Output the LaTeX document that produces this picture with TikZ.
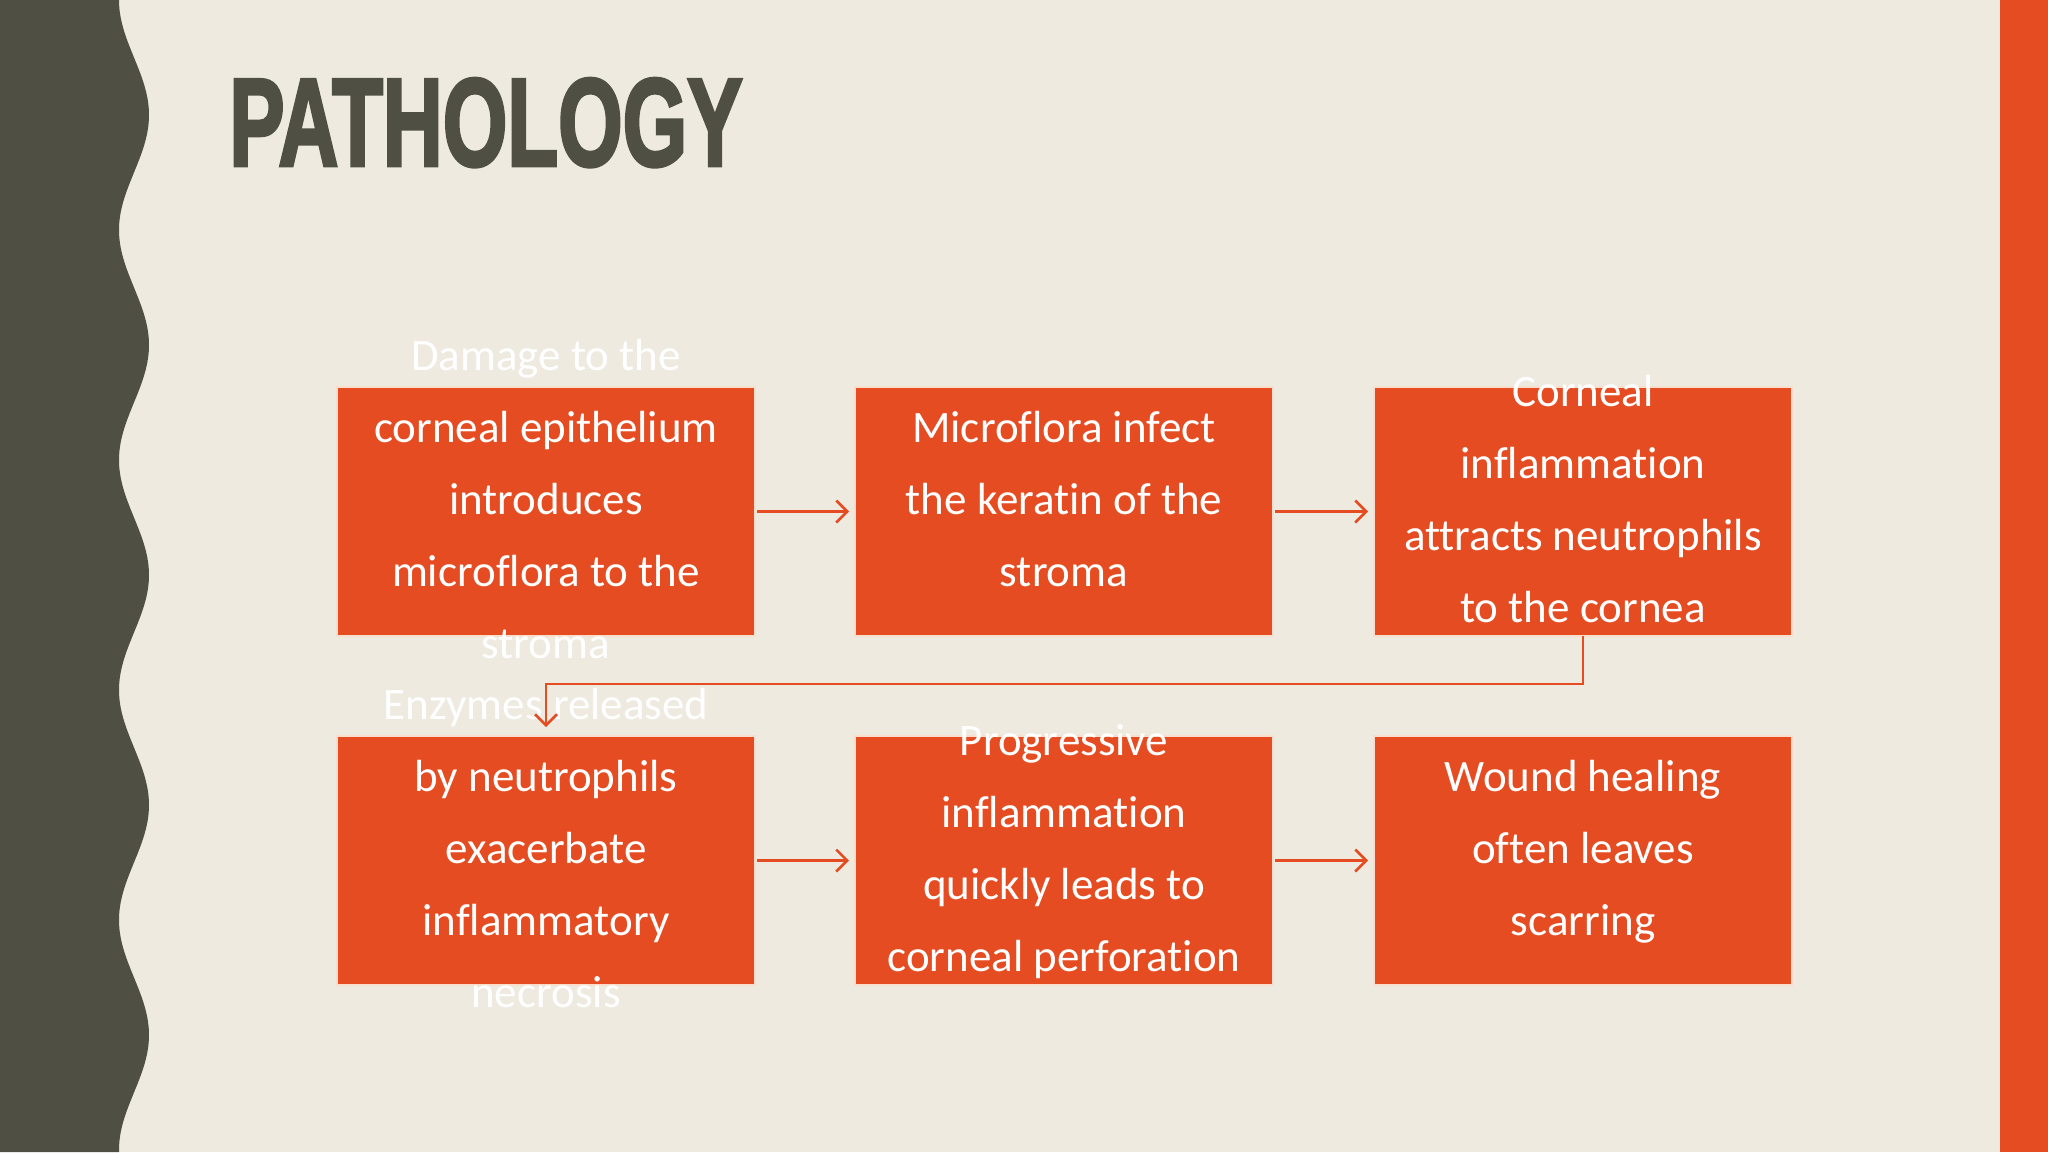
\documentclass[tikz,border=0pt]{standalone}
\usepackage{fontspec}
\setmainfont{Carlito}[RawFeature={-liga;-clig}]
\newfontfamily\titlefont{Liberation Sans}[FakeBold=3]
\usetikzlibrary{arrows.meta}
\definecolor{bg}{RGB}{238,234,224}
\definecolor{dark}{RGB}{79,79,67}
\definecolor{org}{RGB}{229,76,34}
\definecolor{edgecol}{RGB}{248,222,205}
\newcommand\lnstrut{\rule[-35pt]{0pt}{70pt}}
\begin{document}
\begin{tikzpicture}[x=1pt,y=-1pt,
  box/.style={draw=edgecol, line width=1.5pt, fill=org, minimum width=418pt, minimum height=249pt, inner sep=0pt, outer sep=0pt},
  txt/.style={text=white, align=center, font=\fontsize{45}{72}\selectfont, inner sep=0pt},
  conn/.style={draw=org, line width=2.5pt, -{Straight Barb[length=11pt,width=22pt]}}]
\useasboundingbox (0,0) rectangle (2048,1152);
\fill[bg] (0,0) rectangle (2048,1152);
\fill[dark] (0,0) -- plot[domain=0:1152, samples=300, variable=\t] ({134-15*cos(1.565217*\t)},\t) -- (0,1152) -- cycle;
\fill[org] (2000,0) rectangle (2048,1152);
\node[anchor=south west, inner sep=0pt, text=dark] (title) at (229,167) {\resizebox{513pt}{87pt}{\titlefont\bfseries PATHOLOGY}};
% boxes
\node[box] (b1) at (546,511.5) {};
\node[box] (b2) at (1064,511.5) {};
\node[box] (b3) at (1583,511.5) {};
\node[box] (b4) at (546,860.5) {};
\node[box] (b5) at (1064,860.5) {};
\node[box] (b6) at (1583,860.5) {};
% texts
\node[txt] (t1) at ([yshift=-3pt]b1.center) {\lnstrut Damage to the\\\lnstrut corneal epithelium\\\lnstrut introduces\\\lnstrut microflora to the\\\lnstrut stroma};
\node[txt] (t2) at ([yshift=-3pt]b2.center) {\lnstrut Microflora infect\\\lnstrut the keratin of the\\\lnstrut stroma};
\node[txt] (t3) at ([yshift=-3pt]b3.center) {\lnstrut Corneal\\\lnstrut inflammation\\\lnstrut attracts neutrophils\\\lnstrut to the cornea};
\node[txt] (t4) at ([yshift=-3pt]b4.center) {\lnstrut Enzymes released\\\lnstrut by neutrophils\\\lnstrut exacerbate\\\lnstrut inflammatory\\\lnstrut necrosis};
\node[txt] (t5) at ([yshift=-3pt]b5.center) {\lnstrut Progressive\\\lnstrut inflammation\\\lnstrut quickly leads to\\\lnstrut corneal perforation};
\node[txt] (t6) at ([yshift=-3pt]b6.center) {\lnstrut Wound healing\\\lnstrut often leaves\\\lnstrut scarring};
% connectors
\draw[conn, shorten <=2pt, shorten >=6pt] (b1.east) -- (b2.west);
\draw[conn, shorten <=2pt, shorten >=6pt] (b2.east) -- (b3.west);
\draw[conn, shorten <=2pt, shorten >=6pt] (b4.east) -- (b5.west);
\draw[conn, shorten <=2pt, shorten >=6pt] (b5.east) -- (b6.west);
\draw[conn, shorten >=9pt] (b3.south) -- ++(0,48) -| (b4.north);
\end{tikzpicture}
\end{document}
